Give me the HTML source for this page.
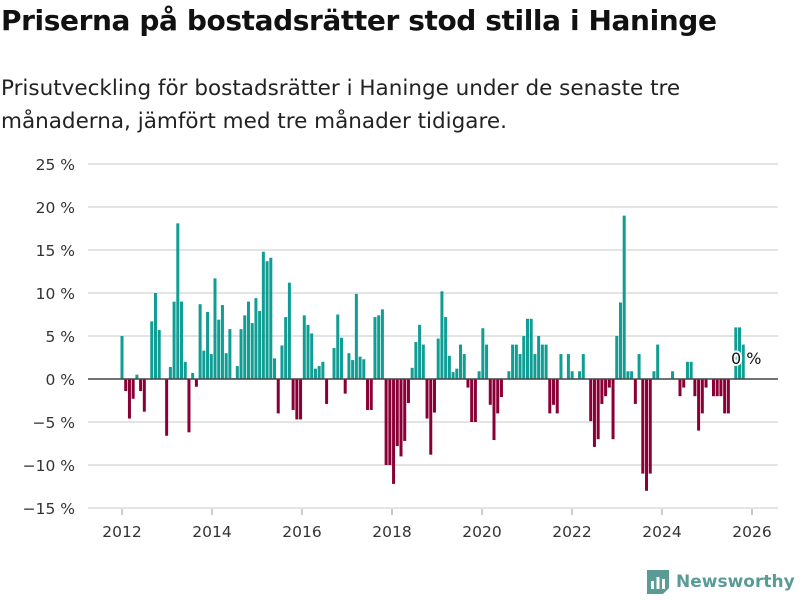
<!DOCTYPE html>
<html><head><meta charset="utf-8"><style>
body{margin:0;background:#fff;font-family:"DejaVu Sans","Liberation Sans",sans-serif;}
#wrap{position:relative;width:800px;height:600px;overflow:hidden;}
h1{position:absolute;left:1px;top:4px;margin:0;font-size:28px;font-weight:bold;color:#111;letter-spacing:-0.4px;}
p.sub{position:absolute;left:1px;top:72px;margin:0;font-size:21.5px;line-height:33px;color:#222;}
</style></head><body>
<div id="wrap">
<h1>Priserna på bostadsrätter stod stilla i Haninge</h1>
<p class="sub">Prisutveckling för bostadsrätter i Haninge under de senaste tre<br>månaderna, jämfört med tre månader tidigare.</p>
<svg id="chart" width="800" height="600" style="position:absolute;left:0;top:0"></svg>
<div style="position:absolute;left:645px;top:568px;display:flex;align-items:center;">
<svg width="26" height="28"><path d="M2 2h22v18l-6 6H2z" fill="#5a9b95"/><rect x="6" y="13" width="3" height="8" fill="#fff"/><rect x="11.5" y="9" width="3" height="12" fill="#fff"/><rect x="17" y="11" width="3" height="10" fill="#fff"/></svg>
<span style="font-size:17px;font-weight:bold;color:#5a9b95;margin-left:5px">Newsworthy</span>
</div>
</div>
<script>
const startYear = 2012;
const values = [5.0,-1.4,-4.6,-2.3,0.5,-1.4,-3.8,0,6.7,10,5.7,0,-6.6,1.4,9.0,18.1,9.0,2.0,-6.2,0.7,-0.9,8.7,3.3,7.8,2.9,11.7,6.9,8.6,3.0,5.8,0.1,1.5,5.8,7.4,9.0,6.5,9.4,7.9,14.8,13.7,14.1,2.4,-4.0,3.9,7.2,11.2,-3.6,-4.7,-4.7,7.4,6.3,5.3,1.2,1.5,2.0,-2.9,0,3.6,7.5,4.8,-1.7,3.0,2.2,9.9,2.6,2.3,-3.6,-3.6,7.2,7.4,8.1,-10,-10,-12.2,-7.8,-9.0,-7.2,-2.8,1.3,4.3,6.3,4.0,-4.6,-8.8,-3.9,4.7,10.2,7.2,2.7,0.8,1.2,4.0,2.9,-1.0,-5,-5,0.9,5.9,4.0,-3.0,-7.1,-4.0,-2.1,0,0.9,4,4,2.9,5,7,7,2.9,5,4,4,-4,-3,-4,2.9,0,2.9,0.9,0,0.9,2.9,0,-4.9,-7.9,-7,-2.9,-2,-1,-7,5,8.9,19,0.9,0.9,-2.9,2.9,-11,-13,-11,0.9,4,0,0,0,0.9,0,-2,-1,2,2,-2,-6,-4,-1,0,-2,-2,-2,-4,-4,0,6,6,4];
const yTicks = [-15,-10,-5,0,5,10,15,20,25];
const xTicks = [2012,2014,2016,2018,2020,2022,2024,2026];
const lastLabel = "0 %";

const svg = document.getElementById('chart');
const NS = 'http://www.w3.org/2000/svg';
const FONT = 'DejaVu Sans, Liberation Sans, sans-serif';
const y = v => 379 - v * 8.6;
const x = yr => 122 + (yr - 2012) * 45;
const xb = i => 122 + i * 3.72;
function mk(tag, attrs){const e=document.createElementNS(NS,tag);for(const k in attrs)e.setAttribute(k,attrs[k]);svg.appendChild(e);return e;}
yTicks.forEach(t=>{
  if(t!==0){const g=mk('line',{x1:88,x2:778,y1:y(t),y2:y(t),stroke:'#dcdcdc','stroke-width':1.5});
  
  }
  const l=mk('text',{x:75,y:y(t)+6,'text-anchor':'end','font-size':15.5,fill:'#333','font-family':FONT});
  l.textContent=(t<0?'\u2212'+(-t):t)+' %';
  
  
});
xTicks.forEach(t=>{
  const l=mk('text',{x:x(t),y:537,'text-anchor':'middle','font-size':15.5,fill:'#333','font-family':FONT});
  l.textContent=t;
  
  
  const tk=mk('line',{x1:x(t),x2:x(t),y1:509,y2:515,stroke:'#999'});
  
  
});
values.forEach((v,i)=>{
  if(v===0)return;
  const cx=xb(i);
  const top=Math.min(y(v),y(0)), h=Math.abs(y(v)-y(0));
  const b=mk('rect',{x:cx-1.5,y:top,width:3,height:h,fill:v>0?'#0f9d94':'#8a0036'});
  
  
});
const zl=mk('line',{x1:88,x2:778,y1:y(0),y2:y(0),stroke:'#444','stroke-width':1.5});


const lx=xb(values.length-1)+3;
const lab=mk('text',{x:lx,y:y(0)-15,'text-anchor':'middle','font-size':16,fill:'#111',stroke:'#fff','stroke-width':4,'paint-order':'stroke','font-family':FONT});
lab.textContent=lastLabel;


</script>
</body></html>
